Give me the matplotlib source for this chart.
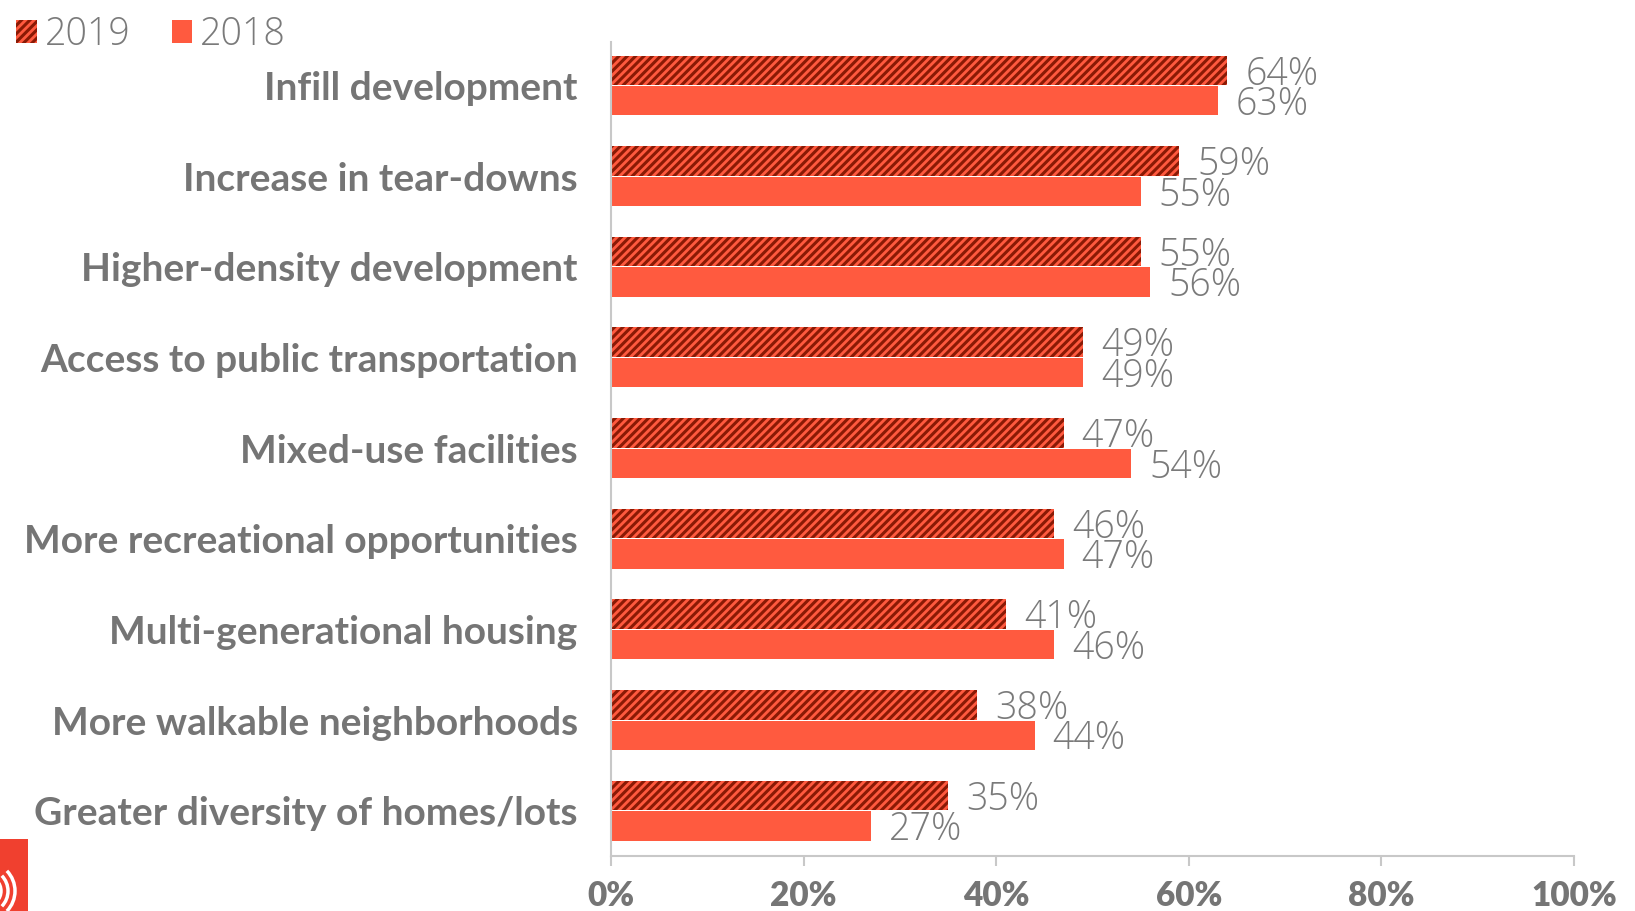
import matplotlib.pyplot as plt
import numpy as np
from matplotlib.patches import Patch, Rectangle, Arc

plt.rcParams['hatch.linewidth'] = 2.2

categories = ['Infill development', 'Increase in tear-downs', 'Higher-density development',
              'Access to public transportation', 'Mixed-use facilities',
              'More recreational opportunities', 'Multi-generational housing',
              'More walkable neighborhoods', 'Greater diversity of homes/lots']
vals_2019 = [64, 59, 55, 49, 47, 46, 41, 38, 35]
vals_2018 = [63, 55, 56, 49, 54, 47, 46, 44, 27]
xticks = [0, 20, 40, 60, 80, 100]

coral = '#ff5a3f'
darkred = '#8a1a05'
gray = '#757575'
axis_gray = '#c8c8c8'
value_font = {'family': 'Open Sans', 'weight': 'light', 'size': 27}

fig = plt.figure(figsize=(16.35, 9.11), dpi=100)
ax = fig.add_axes([0.3737, 0.0604, 0.589, 0.8935])

y = np.arange(len(categories))
h = 0.325
off = 0.168

ax.barh(y - off, vals_2019, height=h, color=coral, edgecolor=darkred, linewidth=0, hatch='////')
ax.barh(y + off, vals_2018, height=h, color=coral, linewidth=0)

for i in range(len(categories)):
    ax.annotate('%d%%' % vals_2019[i], (vals_2019[i], y[i] - off), xytext=(18, -4),
                textcoords='offset pixels', va='center', ha='left', color='#7a7a7a', **value_font)
    ax.annotate('%d%%' % vals_2018[i], (vals_2018[i], y[i] + off), xytext=(18, -4),
                textcoords='offset pixels', va='center', ha='left', color='#7a7a7a', **value_font)

ax.set_xlim(0, 100)
ax.set_ylim(8.5, -0.48)
ax.set_yticks(y)
ax.set_yticklabels(categories, fontsize=28, fontweight='bold', color=gray, family='Lato')
ax.set_xticks(xticks)
ax.set_xticklabels(['%d%%' % t for t in xticks], fontsize=24, fontweight='heavy', color=gray, family='Lato')
ax.tick_params(axis='y', length=0, pad=24)
ax.tick_params(axis='x', length=7, width=1.5, color=axis_gray, pad=10)

for s in ['top', 'right']:
    ax.spines[s].set_visible(False)
for s in ['left', 'bottom']:
    ax.spines[s].set_color(axis_gray)
    ax.spines[s].set_linewidth(1.5)

handles = [Patch(facecolor=coral, edgecolor=darkred, linewidth=0, hatch='////'),
           Patch(facecolor=coral, linewidth=0)]
leg = fig.legend(handles, ['2019', '2018'], loc='upper left', bbox_to_anchor=(-0.006, 1.012),
                 ncol=2, frameon=False, handlelength=0.55, handleheight=0.55,
                 handletextpad=0.2, columnspacing=1.1, borderpad=0.2,
                 prop=value_font)
for t in leg.get_texts():
    t.set_color('#7a7a7a')

# small logo block in bottom-left corner
fig.add_artist(Rectangle((0, 0), 28 / 1635, 72 / 911, transform=fig.transFigure,
                         facecolor='#f0402f', edgecolor='none'))
for r in [30, 44, 58]:
    fig.add_artist(Arc((-14 / 1635, 20 / 911), r / 1635, r / 911, theta1=-60, theta2=60,
                       transform=fig.transFigure, color='white', linewidth=2.5))

fig.savefig('out.png', dpi=100)
